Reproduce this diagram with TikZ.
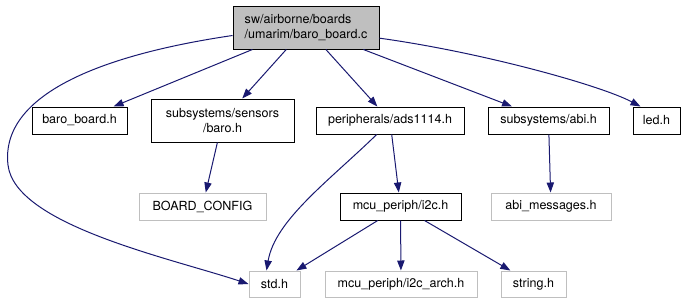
\documentclass[tikz,border=0pt]{standalone}
\usepackage{xcolor}
\usepackage{fontspec}
\setmainfont{TeX Gyre Heros}
\usetikzlibrary{arrows.meta}

\definecolor{inclblue}{HTML}{191970}
\definecolor{filegray}{HTML}{BFBFBF}

\begin{document}
\begin{tikzpicture}[x=0.75pt, y=-0.75pt,
        file/.style={draw=black, line width=0.75pt, inner sep=0pt, align=center,
            font=\fontsize{9.4}{11.25}\selectfont},
        extfile/.style={file, draw=filegray},
        size/.style 2 args={minimum width=#1*0.75pt, minimum height=#2*0.75pt},
        incl/.style={draw=inclblue, line width=0.75pt,
            -{Triangle[length=7.5pt, width=5.5pt]}}]
            \useasboundingbox (0, 0) rectangle (688, 304);

            \node[file, fill=filegray, align=left, size={146}{43}] (root) at (306, 27.5)
                {sw/airborne/boards\\/umarim/baro\_board.c};

            \node[file, size={95}{27}] (baroh) at (79.5, 120.5) {baro\_board.h};
            \node[file, size={143}{43}] (sensors) at (222.5, 120.5) {subsystems/sensors\\/baro.h};
            \node[file, size={148}{27}] (ads) at (390, 120.5) {peripherals/ads1114.h};
            \node[file, size={121}{27}] (abih) at (548.5, 120.5) {subsystems/abi.h};
            \node[file, size={47}{27}] (ledh) at (656.5, 120.5) {led.h};

            \node[extfile, size={127}{27}] (boardcfg) at (202.5, 206.5) {BOARD\_CONFIG};
            \node[file, size={121}{27}] (i2ch) at (400.5, 206.5) {mcu\_periph/i2c.h};
            \node[extfile, size={120}{27}] (abimsg) at (551, 206.5) {abi\_messages.h};

            \node[extfile, size={51}{26}] (stdh) at (274.5, 284) {std.h};
            \node[extfile, size={152}{26}] (i2carch) at (401, 284) {mcu\_periph/i2c\_arch.h};
            \node[extfile, size={65}{26}] (stringh) at (533.5, 284) {string.h};

            % includes of the board file
            \draw[incl] ([yshift=-6pt]root.west) .. controls (100, 55) and (0, 95) .. (8, 165)
                .. controls (15, 225) and (170, 258) .. (stdh.west);
            \draw[incl] (root) -- (baroh);
            \draw[incl] (root) -- (sensors);
            \draw[incl] (root) -- (ads);
            \draw[incl] (root) -- (abih);
            \draw[incl] ([yshift=-8pt]root.east) .. controls (480, 52) and (600, 85) .. ([xshift=-12pt]ledh.north);

            \draw[incl] (sensors) -- (boardcfg);
            \draw[incl] ([xshift=-10pt]ads.south) .. controls (330, 180) and (275, 220) .. ([xshift=-6pt]stdh.north);
            \draw[incl] (ads) -- (i2ch);
            \draw[incl] (abih) -- (abimsg);

            \draw[incl] (i2ch) -- (stdh);
            \draw[incl] (i2ch) -- (i2carch);
            \draw[incl] (i2ch) -- (stringh);
        \end{tikzpicture}
\end{document}
